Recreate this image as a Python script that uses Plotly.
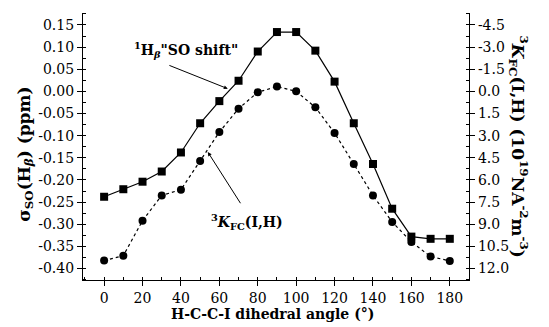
import plotly.graph_objects as go

angle = [0, 10, 20, 30, 40, 50, 60, 70, 80, 90, 100, 110, 120, 130, 140, 150, 160, 170, 180]
so_shift = [-0.238, -0.221, -0.204, -0.181, -0.138, -0.072, -0.022, 0.024, 0.090, 0.134,
            0.134, 0.092, 0.022, -0.072, -0.164, -0.265, -0.328, -0.333, -0.333]
k_fc = [11.46, 11.13, 8.76, 7.05, 6.66, 4.71, 2.76, 1.17, 0.06, -0.33,
        0.0, 1.08, 2.82, 4.92, 7.05, 8.85, 10.2, 11.19, 11.49]

x_ticks = [0, 20, 40, 60, 80, 100, 120, 140, 160, 180]
left_ticks = [0.15, 0.10, 0.05, 0.00, -0.05, -0.10, -0.15, -0.20, -0.25, -0.30, -0.35, -0.40]
left_labels = ["0.15", "0.10", "0.05", "0.00", "-0.05", "-0.10", "-0.15", "-0.20",
               "-0.25", "-0.30", "-0.35", "-0.40"]
right_ticks = [-4.5, -3.0, -1.5, 0.0, 1.5, 3.0, 4.5, 6.0, 7.5, 9.0, 10.5, 12.0]
right_labels = ["-4.5", "-3.0", "-1.5", "0.0", "1.5", "3.0", "4.5", "6.0", "7.5",
                "9.0", "10.5", "12.0"]

FONT = "DejaVu Serif"
ylo, yhi = -0.426, 0.177

fig = go.Figure()
fig.add_trace(go.Scatter(x=angle, y=so_shift, mode="lines+markers",
                         line=dict(color="black", width=1.2),
                         marker=dict(symbol="square", size=8, color="black"),
                         yaxis="y", showlegend=False))
fig.add_trace(go.Scatter(x=angle, y=k_fc, mode="lines+markers",
                         line=dict(color="black", width=1.2, dash="dot"),
                         marker=dict(symbol="circle", size=8, color="black"),
                         yaxis="y2", showlegend=False))

axis_common = dict(showline=True, linecolor="black", linewidth=1.2, showgrid=False,
                   zeroline=False, ticks="outside", ticklen=5, tickcolor="black",
                   automargin=False,
                   tickfont=dict(family=FONT, size=14, color="black"))

# page body adds an 8px offset, so the figure is 8px smaller and shifted
fig.update_layout(
    width=541, height=319,
    margin=dict(l=75, r=80, t=5, b=47, autoexpand=False),
    paper_bgcolor="white", plot_bgcolor="white",
    font=dict(family=FONT, color="black"),
    xaxis=dict(range=[-11, 190], tickmode="array", tickvals=x_ticks,
               minor=dict(dtick=10, tick0=0, ticks="inside", ticklen=3, tickcolor="black"),
               **axis_common),
    yaxis=dict(range=[ylo, yhi], tickmode="array", tickvals=left_ticks, ticktext=left_labels,
               minor=dict(dtick=0.025, tick0=0, ticks="inside", ticklen=3, tickcolor="black"),
               **axis_common),
    yaxis2=dict(overlaying="y", side="right", range=[-30 * ylo, -30 * yhi],
                tickmode="array", tickvals=right_ticks, ticktext=right_labels,
                minor=dict(dtick=0.75, tick0=0, ticks="inside", ticklen=3, tickcolor="black"),
                **axis_common),
)

# axis titles
fig.add_annotation(xref="paper", yref="paper", x=0.49, y=-0.128, xanchor="center", yanchor="middle",
                   text="<b>H-C-C-I dihedral angle (°)</b>", showarrow=False,
                   font=dict(family=FONT, size=14))
fig.add_annotation(xref="paper", yref="paper", x=-0.148, y=0.472, xanchor="center", yanchor="middle",
                   text="<b>σ<sub>SO</sub>(H<sub><i>β</i></sub>) (ppm)</b>", textangle=-90,
                   showarrow=False, font=dict(family=FONT, size=17))
fig.add_annotation(xref="paper", yref="paper", x=1.127, y=0.50, xanchor="center", yanchor="middle",
                   text="<b><sup>3</sup><i>K</i><sub>FC</sub>(I,H) (10<sup>19</sup>NA<sup>-2</sup>m<sup>-3</sup>)</b>",
                   textangle=90, showarrow=False, font=dict(family=FONT, size=17))

# curve labels with arrows
fig.add_annotation(xref="x", yref="y", x=42.5, y=0.094, showarrow=False,
                   text="<b><sup>1</sup>H<sub><i>β</i></sub>\"SO shift\"</b>",
                   font=dict(family=FONT, size=14))
fig.add_annotation(xref="x", yref="y", x=64.4, y=0.006, ax=33.2, ay=0.06,
                   axref="x", ayref="y", text="", showarrow=True, arrowhead=2,
                   arrowsize=0.8, arrowwidth=1, arrowcolor="black")
fig.add_annotation(xref="x", yref="y", x=74.3, y=-0.295, showarrow=False,
                   text="<b><sup>3</sup><i>K</i><sub>FC</sub>(I,H)</b>",
                   font=dict(family=FONT, size=14))
fig.add_annotation(xref="x", yref="y", x=54, y=-0.137, ax=71.5, ay=-0.256,
                   axref="x", ayref="y", text="", showarrow=True, arrowhead=2,
                   arrowsize=0.8, arrowwidth=1, arrowcolor="black")

fig.write_html("out.html")
